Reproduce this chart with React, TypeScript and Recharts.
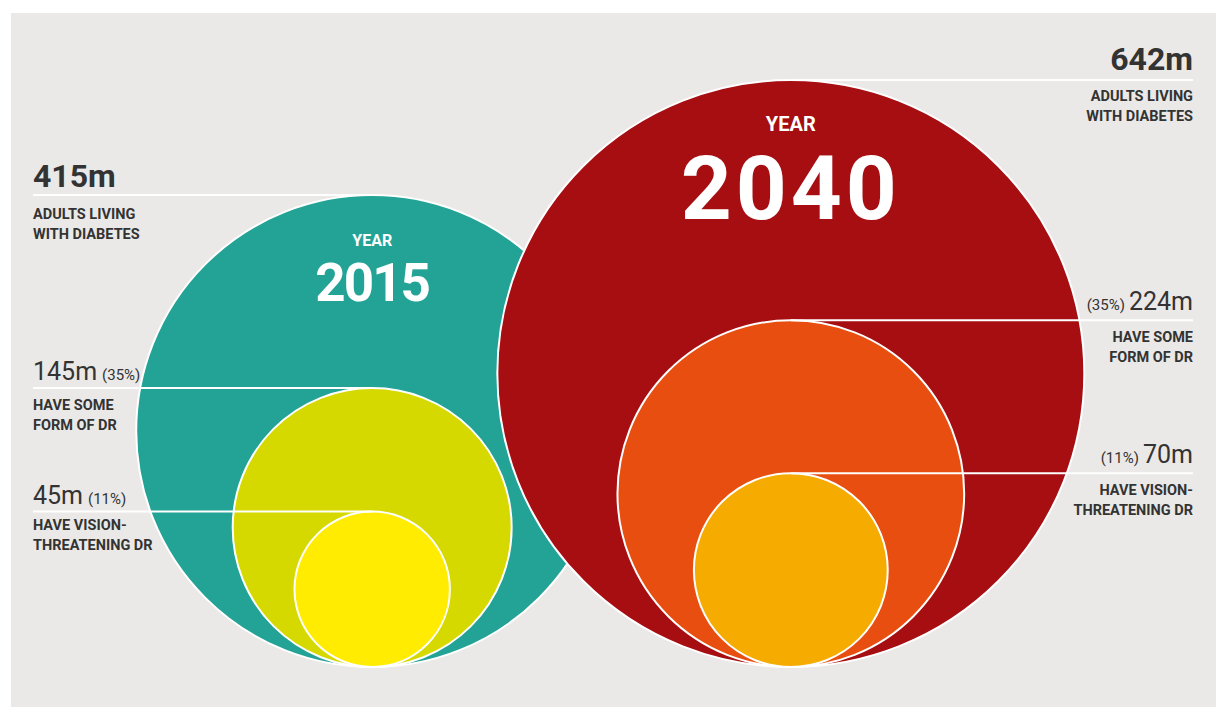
import React from 'react';
import { ScatterChart, Scatter, XAxis, YAxis, ZAxis } from 'recharts';

// millions of adults
const years = [2015, 2040];
const adultsWithDiabetes = [415, 642];
const withSomeDR = [145, 224];
const withVisionThreateningDR = [45, 70];
const someDRShare = ['35%', '35%'];
const visionThreateningShare = ['11%', '11%'];
const levelCaptions = [
    ['ADULTS LIVING', 'WITH DIABETES'],
    ['HAVE SOME', 'FORM OF DR'],
    ['HAVE VISION-', 'THREATENING DR'],
];

const W = 1222;
const H = 707;
const MAX_R = 293.5;
const FONT = 'Roboto, "Noto Sans", "DejaVu Sans", sans-serif';
const INK = '#333333';

const palette: Record<number, string[]> = {
    2015: ['#22a396', '#d5d900', '#ffec00'],
    2040: ['#a60e12', '#e84e0f', '#f5ab00'],
};

// where each year's labels sit
const labelSide: Record<number, { x: number; anchor: 'start' | 'end'; valueGap: number; captionDy: number[] }> = {
    2015: { x: 33, anchor: 'start', valueGap: 8, captionDy: [24, 22, 18] },
    2040: { x: 1193, anchor: 'end', valueGap: 10, captionDy: [21, 22, 22] },
};

// title block inside the big circle, offsets from the circle top
const yearTitle: Record<number, { small: number; big: number; smallDy: number; bigDy: number; spacing: number }> = {
    2015: { small: 16, big: 53, smallDy: 51, bigDy: 106, spacing: -2 },
    2040: { small: 20, big: 89, smallDy: 51, bigDy: 139, spacing: 4 },
};

const buildSeries = (i: number) =>
    [adultsWithDiabetes[i], withSomeDR[i], withVisionThreateningDR[i]].map((value, level) => ({
        year: years[i],
        base: 0,
        value,
        level,
        share: level === 1 ? someDRShare[i] : level === 2 ? visionThreateningShare[i] : null,
    }));

const Bubble = (props: any) => {
    const { cx, cy, size, payload } = props;
    const r = Math.sqrt(size / Math.PI);
    const top = cy - 2 * r;
    const { year, value, level, share } = payload;
    const side = labelSide[year];
    const title = yearTitle[year];
    const [cap1, cap2] = levelCaptions[level];
    const valueY = top - side.valueGap;
    const capY = top + side.captionDy[level];

    let valueText;
    if (level === 0) {
        valueText = (
            <text x={side.x} y={valueY} textAnchor={side.anchor} fontSize={32} fontWeight={700} fill={INK}>
                {value}m
            </text>
        );
    } else if (side.anchor === 'start') {
        valueText = (
            <text x={side.x} y={valueY} textAnchor="start" fill={INK}>
                <tspan fontSize={25}>{value}m</tspan>
                <tspan fontSize={15} dx={5}>({share})</tspan>
            </text>
        );
    } else {
        valueText = (
            <text x={side.x} y={valueY} textAnchor="end" fill={INK}>
                <tspan fontSize={15}>({share})</tspan>
                <tspan fontSize={25} dx={4}>{value}m</tspan>
            </text>
        );
    }

    return (
        <g fontFamily={FONT}>
            <circle cx={cx} cy={cy - r} r={r} fill={palette[year][level]} stroke="#ffffff" strokeWidth={2} />
            <line x1={side.x} x2={cx} y1={top} y2={top} stroke="#ffffff" strokeWidth={2} />
            {valueText}
            <text x={side.x} y={capY} textAnchor={side.anchor} fontSize={14.5} fontWeight={700} fill={INK}>
                <tspan x={side.x}>{cap1}</tspan>
                <tspan x={side.x} dy={20}>{cap2}</tspan>
            </text>
            {level === 0 && (
                <text x={cx} y={top + title.smallDy} fill="#ffffff" fontWeight={700} textAnchor="middle">
                    <tspan x={cx} fontSize={title.small}>YEAR</tspan>
                    <tspan x={cx} dy={title.bigDy - title.smallDy} fontSize={title.big} letterSpacing={title.spacing}>
                        {year}
                    </tspan>
                </text>
            )}
        </g>
    );
};

export default function App() {
    const zMax = Math.max(...adultsWithDiabetes);
    return (
        <div style={{ position: 'absolute', left: 0, top: 0, width: W, height: H, background: '#ffffff', overflow: 'hidden' }}>
            <div style={{ position: 'absolute', left: 11, top: 13, width: 1205, height: 694, background: '#ebe9e7' }} />
            <div style={{ position: 'absolute', left: 0, top: 0 }}>
                <ScatterChart width={W} height={H} margin={{ top: 0, right: 180, bottom: 40, left: 121 }}>
                    <XAxis type="number" dataKey="year" domain={[2000, 2055]} hide />
                    <YAxis type="number" dataKey="base" domain={[0, 1]} hide />
                    <ZAxis type="number" dataKey="value" domain={[0, zMax]} range={[0, Math.PI * MAX_R * MAX_R]} />
                    {years.map((y, i) => (
                        <Scatter key={y} data={buildSeries(i)} shape={Bubble} isAnimationActive={false} />
                    ))}
                </ScatterChart>
            </div>
        </div>
    );
}
